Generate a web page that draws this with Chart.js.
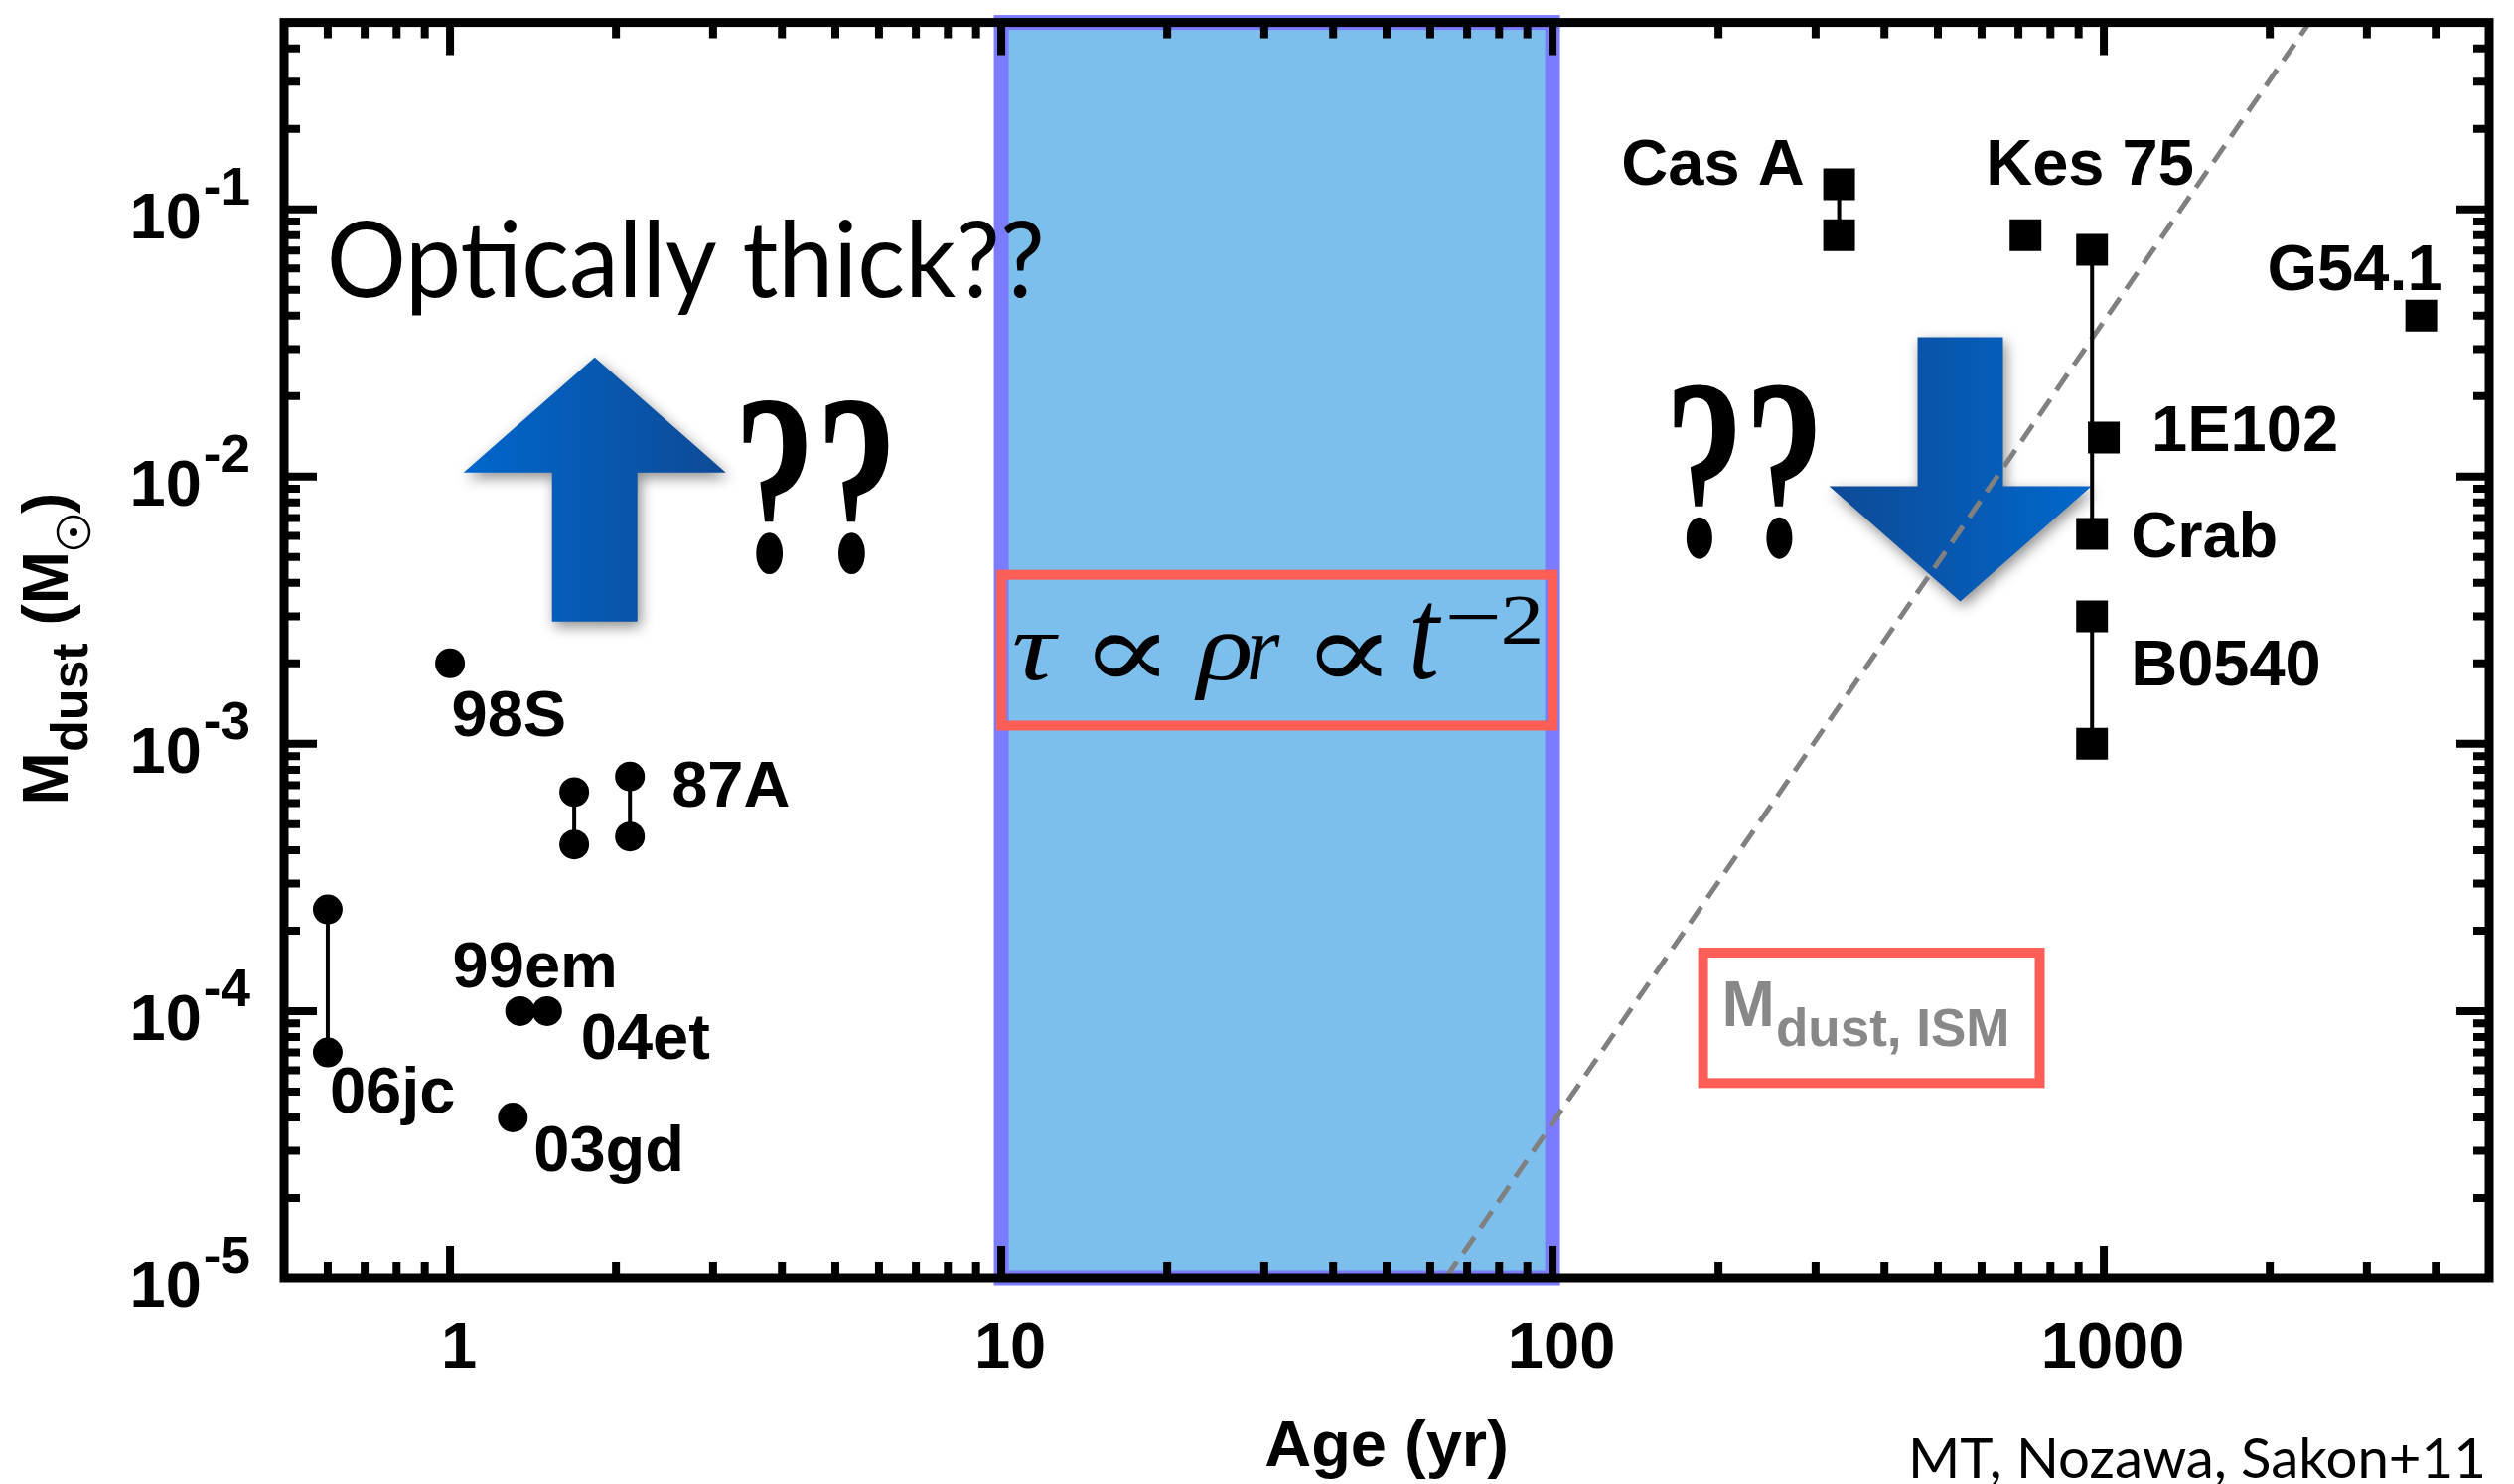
<!DOCTYPE html>
<html>
<head>
<meta charset="utf-8">
<script src="https://cdn.jsdelivr.net/npm/chart.js@4.4.1/dist/chart.umd.min.js"></script>
<style>
  html, body { margin: 0; padding: 0; background: #fff; }
  canvas { display: block; }
</style>
</head>
<body>
<canvas id="myChart" width="2531" height="1494"></canvas>
<script>
// supernovae (circles)
const snAge  = [0.60, 0.60, 1.00, 1.68, 1.68, 2.12, 2.12, 1.34, 1.50, 1.30];
const snMass = [2.4e-4, 7.0e-5, 2.0e-3, 6.6e-4, 4.2e-4, 7.55e-4, 4.5e-4, 1.0e-4, 1.0e-4, 4.0e-5];

// supernova remnants (squares)
const snrAge  = [331, 331, 721, 952, 1000, 952, 952, 952, 3765];
const snrMass = [0.124, 0.080, 0.080, 0.0705, 0.014, 0.0061, 3.0e-3, 1.0e-3, 0.040];

// vertical ranges joining two estimates
const rangeAge  = [0.60, 1.68, 2.12, 331, 952, 952];
const rangeLow  = [7.0e-5, 4.2e-4, 4.5e-4, 0.080, 0.0061, 1.0e-3];
const rangeHigh = [2.4e-4, 6.6e-4, 7.55e-4, 0.124, 0.0705, 3.0e-3];

// M_dust,ISM (dashed)
const ismAge  = [64, 2360];
const ismMass = [1e-5, 0.5];

// object names, hooked on one point each
const nameText = ['98S', '87A', '99em', '04et', '06jc', '03gd', 'Cas A', 'Kes 75', 'G54.1', '1E102', 'Crab', 'B0540'];
const nameAge  = [1.00, 2.12, 1.34, 1.50, 0.60, 1.30, 331, 721, 3765, 1000, 952, 952];
const nameMass = [2.0e-3, 7.55e-4, 1.0e-4, 1.0e-4, 7.0e-5, 4.0e-5, 0.124, 0.080, 0.040, 0.014, 0.0061, 3.0e-3];

// axes
const xTicks = [1, 10, 100, 1000];
const xTickLabels = ['1', '10', '100', '1000'];
const yTicks = [1e-5, 1e-4, 1e-3, 1e-2, 1e-1];
const yTickExp = ['-5', '-4', '-3', '-2', '-1'];

// shaded era and boxes
const bandAge = [10, 100];
const tauBoxAge = [10, 100];
const tauBoxMass = [4.29e-3, 1.17e-3];
const ismBoxAge = [187.5, 765];
const ismBoxMass = [1.655e-4, 5.38e-5];

// label offsets in px (style only)
const nameDx = [1.5, 42, -68, 34, 2, 21, -35, -40, 22, 48, 39, 39];
const nameDy = [73, 30.5, -24, 48.5, 60, 54, 0, -51, -25.5, 14, 23, 70];
const nameAlign = ['left', 'left', 'left', 'left', 'left', 'left', 'right', 'left', 'right', 'left', 'left', 'left'];

// formula glyphs: [text, font, centre dx, centre dy, w, h] from the box's lower-left corner
const formula = [
    ['\u03C4', 'italic', 35.5, -69, 45, 46],
    ['\u221D', 'normal', 126, -70, 66, 44],
    ['\u03C1', 'italic', 222, -59, 56, 66],
    ['r', 'italic', 265.5, -69, 31, 46],
    ['\u221D', 'normal', 349.5, -70, 66, 44],
    ['t', 'italic', 429, -84, 29, 76],
    ['\u2212', 'normal', 475, -109, 49, 5],
    ['2', 'normal', 524, -106, 36, 48]
];

const SANS = '"Liberation Sans", Arial, Helvetica, sans-serif';
const HUMAN = 'Lato, "Open Sans", sans-serif';
const SERIF = '"Liberation Serif", "DejaVu Serif", serif';

function minorTicks(lo, hi) {
    const out = [];
    for (let e = -6; e <= 4; e++) {
        for (let k = 2; k <= 9; k++) {
            const v = k * Math.pow(10, e);
            if (v > lo * 1.0001 && v < hi * 0.9999) out.push(v);
        }
    }
    return out;
}

function fitWidth(ctx, str, font, x, baseline, width) {
    ctx.font = font;
    const w = ctx.measureText(str).width;
    ctx.save();
    ctx.translate(x, baseline);
    ctx.scale(width / w, 1);
    ctx.textAlign = 'left';
    ctx.textBaseline = 'alphabetic';
    ctx.fillText(str, 0, 0);
    ctx.restore();
}

function fitBox(ctx, str, font, cx, cy, w, h) {
    ctx.font = font;
    ctx.textAlign = 'left';
    ctx.textBaseline = 'alphabetic';
    const m = ctx.measureText(str);
    const bw = m.actualBoundingBoxLeft + m.actualBoundingBoxRight;
    const bh = m.actualBoundingBoxAscent + m.actualBoundingBoxDescent;
    ctx.save();
    ctx.translate(cx - w / 2, cy - h / 2);
    ctx.scale(w / bw, h / bh);
    ctx.fillText(str, m.actualBoundingBoxLeft, m.actualBoundingBoxAscent);
    ctx.restore();
}

function drawArrow(ctx, cx, tipY, dir, cLeft, cRight) {
    const headHalf = 132, shaftHalf = 43, headLen = 116, shaftLen = 150;
    const baseY = tipY - dir * headLen;
    const endY = baseY - dir * shaftLen;
    const g = ctx.createLinearGradient(cx - headHalf, 0, cx + headHalf, 0);
    g.addColorStop(0, cLeft);
    g.addColorStop(1, cRight);
    ctx.save();
    ctx.beginPath();
    ctx.moveTo(cx, tipY);
    ctx.lineTo(cx + headHalf, baseY);
    ctx.lineTo(cx + shaftHalf, baseY);
    ctx.lineTo(cx + shaftHalf, endY);
    ctx.lineTo(cx - shaftHalf, endY);
    ctx.lineTo(cx - shaftHalf, baseY);
    ctx.lineTo(cx - headHalf, baseY);
    ctx.closePath();
    ctx.shadowColor = 'rgba(0,0,0,0.45)';
    ctx.shadowBlur = 14;
    ctx.shadowOffsetX = 3;
    ctx.shadowOffsetY = 5;
    ctx.fillStyle = g;
    ctx.fill();
    ctx.restore();
}

const decor = {
    id: 'decor',
    beforeDatasetsDraw(chart) {
        const ctx = chart.ctx;
        const a = chart.chartArea;
        const X = v => chart.scales.x.getPixelForValue(v);
        const Y = v => chart.scales.y.getPixelForValue(v);
        ctx.save();

        // blue band 10-100 yr
        const b0 = X(bandAge[0]), b1 = X(bandAge[1]);
        ctx.fillStyle = '#7CBEEC';
        ctx.fillRect(b0, a.top, b1 - b0, a.bottom - a.top);
        ctx.strokeStyle = '#7B7BFF';
        ctx.lineWidth = 15;
        ctx.strokeRect(b0, a.top, b1 - b0, a.bottom - a.top);

        // tau box
        ctx.strokeStyle = '#FF5E57';
        ctx.lineWidth = 10;
        const t0 = X(tauBoxAge[0]), t1 = X(tauBoxAge[1]);
        const ty0 = Y(tauBoxMass[0]), ty1 = Y(tauBoxMass[1]);
        ctx.strokeRect(t0, ty0, t1 - t0, ty1 - ty0);

        // formula, glyph by glyph
        ctx.fillStyle = '#000';
        formula.forEach(([s, style, dx, dy, w, h]) => {
            fitBox(ctx, s, style + ' 100px ' + SERIF, t0 + dx, ty1 + dy, w, h);
        });

        // ISM box
        const i0 = X(ismBoxAge[0]), i1 = X(ismBoxAge[1]);
        const iy0 = Y(ismBoxMass[0]), iy1 = Y(ismBoxMass[1]);
        ctx.strokeStyle = '#FF5E57';
        ctx.lineWidth = 10;
        ctx.strokeRect(i0, iy0, i1 - i0, iy1 - iy0);
        ctx.fillStyle = '#888888';
        ctx.font = 'bold 64px ' + SANS;
        ctx.fillText('M', i0 + 19, iy0 + 74);
        const mW = ctx.measureText('M').width;
        ctx.font = 'bold 53px ' + SANS;
        ctx.fillText('dust, ISM', i0 + 19 + mW + 1, iy0 + 94);

        // arrows
        drawArrow(ctx, X(1.83), Y(0.0279), -1, '#0067CC', '#0E4A96');
        drawArrow(ctx, X(549), Y(0.00341), 1, '#0E4A96', '#0068CC');

        // big question marks
        ctx.fillStyle = '#000';
        fitBox(ctx, '??', 'bold 260px ' + SERIF, X(4.61), Y(9.2e-3), 150, 178);
        fitBox(ctx, '??', 'bold 260px ' + SERIF, X(223), Y(0.0105), 146, 178);

        // optically thick
        fitWidth(ctx, 'Optically thick??', '106px ' + HUMAN, X(0.597), Y(0.0469), 723);

        ctx.restore();
    },
    afterDraw(chart) {
        const ctx = chart.ctx;
        const a = chart.chartArea;
        const X = v => chart.scales.x.getPixelForValue(v);
        const Y = v => chart.scales.y.getPixelForValue(v);
        ctx.save();

        // frame
        ctx.strokeStyle = '#000';
        ctx.lineWidth = 9;
        ctx.strokeRect(a.left, a.top, a.right - a.left, a.bottom - a.top);

        // ticks, inward, all four sides
        ctx.lineWidth = 8;
        ctx.lineCap = 'butt';
        const xs = chart.scales.x, ys = chart.scales.y;
        const xAll = xTicks.map(v => [v, 33]).concat(minorTicks(xs.min, xs.max).map(v => [v, 16]));
        const yAll = yTicks.map(v => [v, 33]).concat(minorTicks(ys.min, ys.max).map(v => [v, 16]));
        ctx.beginPath();
        xAll.forEach(([v, len]) => {
            const px = X(v);
            ctx.moveTo(px, a.bottom); ctx.lineTo(px, a.bottom - len);
            ctx.moveTo(px, a.top); ctx.lineTo(px, a.top + len);
        });
        yAll.forEach(([v, len]) => {
            const py = Y(v);
            if (Math.abs(py - a.bottom) < 1) return;
            ctx.moveTo(a.left, py); ctx.lineTo(a.left + len, py);
            ctx.moveTo(a.right, py); ctx.lineTo(a.right - len, py);
        });
        ctx.stroke();

        // x tick labels
        ctx.fillStyle = '#000';
        ctx.textBaseline = 'alphabetic';
        ctx.textAlign = 'center';
        ctx.font = 'bold 65px ' + SANS;
        xTicks.forEach((v, i) => ctx.fillText(xTickLabels[i], X(v) + 9, a.bottom + 90));

        // y tick labels 10^n
        const right = a.left - 34;
        yTicks.forEach((v, i) => {
            const py = Y(v);
            ctx.textAlign = 'right';
            ctx.font = 'bold 53px ' + SANS;
            const sw = ctx.measureText(yTickExp[i]).width;
            ctx.fillText(yTickExp[i], right, py - 5);
            ctx.font = 'bold 65px ' + SANS;
            ctx.fillText('10', right - sw - 2, py + 29);
        });

        // object names
        ctx.font = 'bold 65px ' + SANS;
        nameText.forEach((s, i) => {
            ctx.textAlign = nameAlign[i];
            ctx.fillText(s, X(nameAge[i]) + nameDx[i], Y(nameMass[i]) + nameDy[i]);
        });

        // x title
        ctx.textAlign = 'center';
        ctx.font = 'bold 65px ' + SANS;
        ctx.fillText('Age (yr)', (a.left + a.right) / 2, a.bottom + 189);

        // y title, rotated
        ctx.save();
        ctx.translate(68, 653);
        ctx.rotate(-Math.PI / 2);
        ctx.textAlign = 'left';
        const big = 'bold 64px ' + SANS, small = 'bold 52px ' + SANS;
        ctx.font = big; const wM = ctx.measureText('M').width;
        const wSp = ctx.measureText(' ').width, wP = ctx.measureText('(').width, wQ = ctx.measureText(')').width;
        ctx.font = small; const wD = ctx.measureText('dust').width;
        const wSun = 38;
        const total = wM + wD + wSp + wP + wM + wSun + wQ;
        let x = -total / 2;
        ctx.font = big; ctx.fillText('M', x, 0); x += wM;
        ctx.font = small; ctx.fillText('dust', x, 20); x += wD + wSp;
        ctx.font = big; ctx.fillText('(', x, 0); x += wP;
        ctx.fillText('M', x, 0); x += wM;
        ctx.beginPath();
        ctx.lineWidth = 2.5;
        ctx.arc(x + 19, 6, 16, 0, Math.PI * 2);
        ctx.stroke();
        ctx.beginPath();
        ctx.arc(x + 19, 6, 4, 0, Math.PI * 2);
        ctx.fill();
        x += wSun;
        ctx.fillText(')', x, 0);
        ctx.restore();

        // credit
        fitWidth(ctx, 'MT, Nozawa, Sakon+11', '57px ' + HUMAN, a.right - 585, chart.height - 6, 582);

        ctx.restore();
    }
};

const rangeSets = rangeAge.map((age, i) => ({
    type: 'line',
    data: [{ x: age, y: rangeLow[i] }, { x: age, y: rangeHigh[i] }],
    borderColor: '#000',
    borderWidth: 4,
    pointRadius: 0,
    showLine: true,
    fill: false
}));

const datasets = [
    {
        label: 'SNe',
        data: snAge.map((x, i) => ({ x, y: snMass[i] })),
        pointStyle: 'circle',
        pointRadius: 15,
        pointBackgroundColor: '#000',
        pointBorderWidth: 0,
        showLine: false
    },
    {
        label: 'SNRs',
        data: snrAge.map((x, i) => ({ x, y: snrMass[i] })),
        pointStyle: 'rect',
        pointRadius: 22.6,
        pointBackgroundColor: '#000',
        pointBorderWidth: 0,
        showLine: false
    },
    ...rangeSets,
    {
        label: 'Mdust,ISM',
        type: 'line',
        data: ismAge.map((x, i) => ({ x, y: ismMass[i] })),
        borderColor: '#808080',
        borderWidth: 5,
        borderDash: [20, 11],
        pointRadius: 0,
        showLine: true,
        fill: false
    }
];

const ctx = document.getElementById('myChart').getContext('2d');
new Chart(ctx, {
    type: 'scatter',
    data: { datasets: datasets },
    options: {
        responsive: false,
        animation: false,
        devicePixelRatio: 1,
        layout: { padding: { left: 286, right: 25, top: 14.5, bottom: 207 } },
        scales: {
            x: { type: 'logarithmic', min: 0.5, max: 5000, display: false },
            y: { type: 'logarithmic', min: 1e-5, max: 0.5, display: false }
        },
        plugins: {
            legend: { display: false },
            tooltip: { enabled: false }
        }
    },
    plugins: [decor]
});
</script>
</body>
</html>
